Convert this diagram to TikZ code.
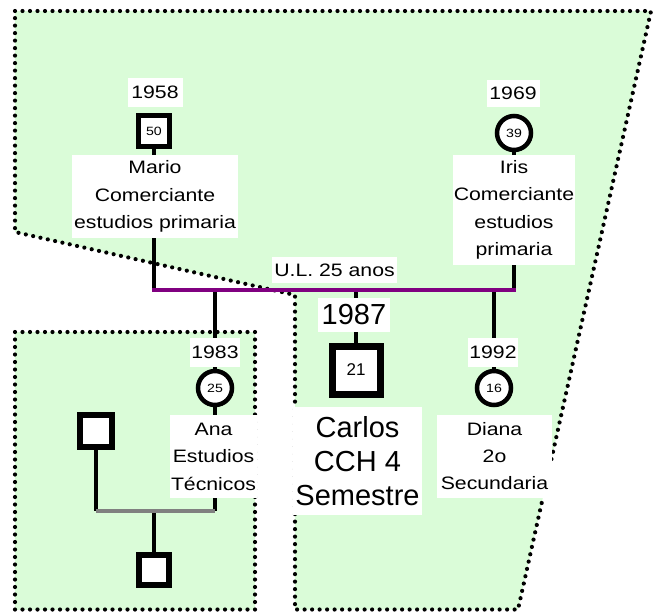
\documentclass[tikz,border=0pt]{standalone}
\usepackage{fontspec}
\setmainfont{Liberation Sans}
\newfontfamily\lblfont[FakeStretch=1.18]{Liberation Sans}

\pgfdeclarelayer{regions}
\pgfdeclarelayer{links}
\pgfsetlayers{regions,links,main}

\definecolor{zone}{RGB}{218,252,216}
\definecolor{union}{RGB}{128,0,128}
\definecolor{kidline}{RGB}{128,128,128}

\tikzset{
  zoneborder/.style={line width=4.2pt, line cap=round, dash pattern=on 0pt off 7.5pt},
  tag/.style={fill=white, inner sep=0pt, align=center,
              font=\lblfont\fontsize{18}{27.5}\selectfont},
  bigtag/.style={fill=white, inner sep=0pt, align=center,
              font=\fontsize{29}{34}\selectfont},
  male/.style={draw, fill=white, rectangle, line width=5.5pt, minimum size=31pt,
               inner sep=0pt, font=\lblfont\fontsize{12}{12}\selectfont},
  female/.style={draw, fill=white, circle, line width=4.5pt, minimum size=34pt,
                 inner sep=0pt, font=\lblfont\fontsize{12}{12}\selectfont},
  link/.style={line width=4.5pt},
}

\begin{document}
\begin{tikzpicture}[x=1pt, y=-1pt]
\useasboundingbox (0,0) rectangle (653,611);

% household zones
\begin{pgfonlayer}{regions}
  \fill[zone] (15,11) -- (651,11) -- (518,609.5) -- (295,609.5) -- (295,295) -- (15,232) -- cycle;
  \draw[zoneborder] (15,11) -- (651,11) -- (518,609.5) -- (295,609.5) -- (295,295) -- (15,232) -- cycle;
  \fill[zone] (15,332) rectangle (255,609.5);
  \draw[zoneborder] (15,332) rectangle (255,609.5);
\end{pgfonlayer}

% parents
\node[male] (mario) at (154,131) {50};
\node[tag, minimum width=55pt, minimum height=29pt] (mariobirth) at (155,92) {1958};
\node[tag, minimum width=166pt, minimum height=83pt] (mariolab) at (155,196.5)
  {Mario\\Comerciante\\estudios primaria};

\node[female] (iris) at (514,133) {39};
\node[tag, minimum width=53pt, minimum height=27pt] (irisbirth) at (513,93) {1969};
\node[tag, minimum width=122pt, minimum height=110pt] (irislab) at (514,210)
  {Iris\\Comerciante\\estudios\\primaria};

\coordinate (wed) at (154,290);
\node[tag, minimum width=125pt, minimum height=26pt] (union) at (334.5,270) {U.L. 25 anos};

% children
\node[female] (ana) at (215,388) {25};
\node[tag, minimum width=50pt, minimum height=29pt] (anabirth) at (215,352.5) {1983};
\node[tag, minimum width=87pt, minimum height=83pt] (analab) at (213.5,456.5)
  {Ana\\Estudios\\Técnicos};

\node[male, line width=7pt, minimum size=48pt, font=\fontsize{17}{17}\selectfont] (carlos) at (356,370) {21};
\node[bigtag, minimum width=72pt, minimum height=34pt] (carlosbirth) at (354,315) {1987};
\node[bigtag, minimum width=129pt, minimum height=108pt] (carloslab) at (357.5,461)
  {Carlos\\CCH 4\\Semestre};

\node[female] (diana) at (494,388) {16};
\node[tag, minimum width=50pt, minimum height=29pt] (dianabirth) at (493,352.5) {1992};
\node[tag, minimum width=115pt, minimum height=83pt, font=\lblfont\fontsize{18}{27}\selectfont] (dianalab) at (494.5,456.5)
  {Diana\\2o\\Secundaria};

% Ana's partner and child
\node[male, minimum size=32pt] (partner) at (96,431) {};
\node[male, minimum size=30pt] (grandchild) at (154,570) {};
\coordinate (anaunion) at (154,511);

\begin{pgfonlayer}{links}
  \draw[link] (mario.center) -- (mario |- wed);
  \draw[link] (iris.center) -- (iris |- wed);
  \draw[link] (ana.center) -- (ana |- wed);
  \draw[link] (carlos.center) -- (carlos |- wed);
  \draw[link] (diana.center) -- (diana |- wed);
  \draw[link, union, line cap=rect] (mario |- wed) -- (iris |- wed);

  \draw[link] (ana.center) -- (ana |- anaunion);
  \draw[link] (partner.center) -- (partner |- anaunion);
  \draw[link] (grandchild.center) -- (anaunion);
  \draw[link, kidline] (partner |- anaunion) -- (ana |- anaunion);
\end{pgfonlayer}
\end{tikzpicture}
\end{document}
